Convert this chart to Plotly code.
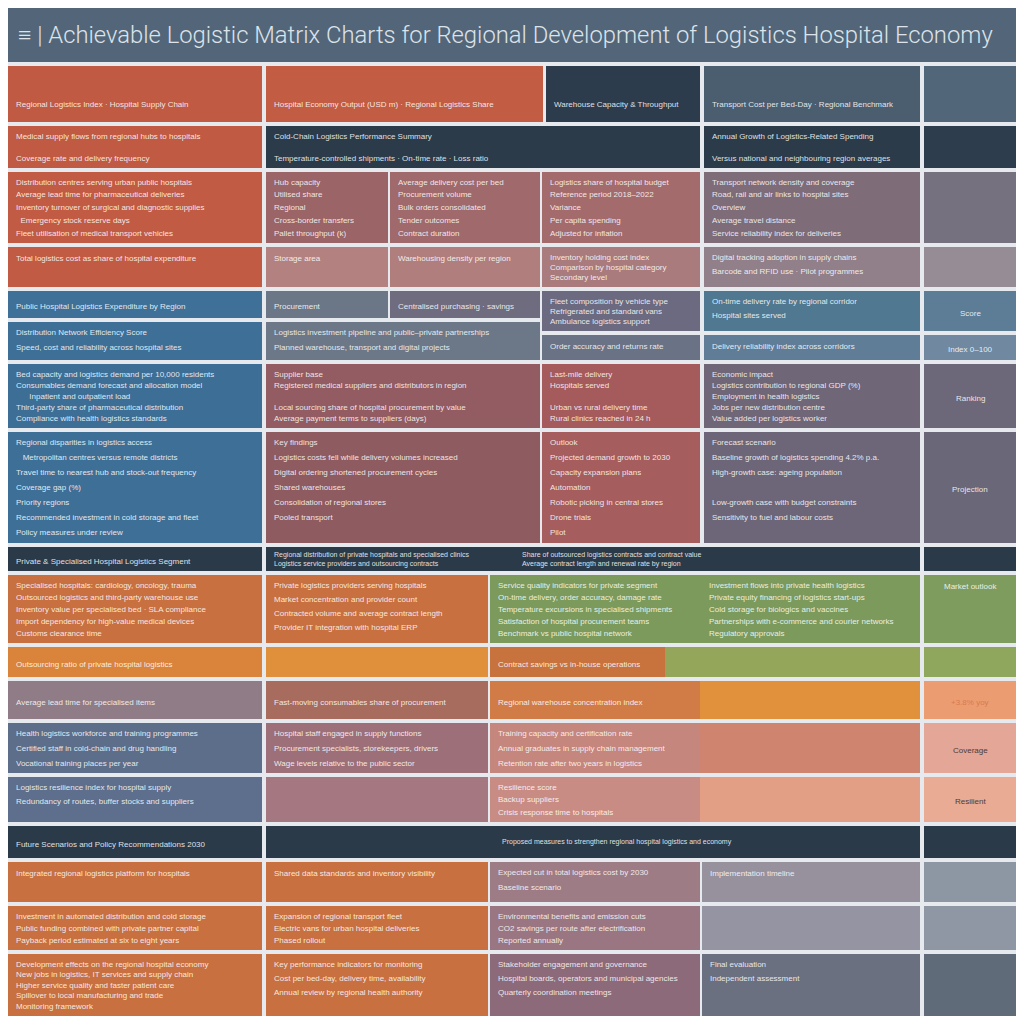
import plotly.graph_objects as go

# ---------------- DATA (cell texts) ----------------
title_text = "≡ | Achievable Logistic Matrix Charts for Regional Development of Logistics Hospital Economy"

row01_text = [["Regional Logistics Index · Hospital Supply Chain"],
              ["Hospital Economy Output (USD m) · Regional Logistics Share"],
              ["Warehouse Capacity & Throughput"],
              ["Transport Cost per Bed-Day · Regional Benchmark"],
              []]
row02_text = [["Medical supply flows from regional hubs to hospitals", "Coverage rate and delivery frequency"],
              ["Cold-Chain Logistics Performance Summary", "Temperature-controlled shipments · On-time rate · Loss ratio"],
              ["Annual Growth of Logistics-Related Spending", "Versus national and neighbouring region averages"],
              []]
row03_text = [["Distribution centres serving urban public hospitals", "Average lead time for pharmaceutical deliveries",
               "Inventory turnover of surgical and diagnostic supplies", "  Emergency stock reserve days",
               "Fleet utilisation of medical transport vehicles"],
              ["Hub capacity", "Utilised share", "Regional", "Cross-border transfers", "Pallet throughput (k)"],
              ["Average delivery cost per bed", "Procurement volume", "Bulk orders consolidated", "Tender outcomes", "Contract duration"],
              ["Logistics share of hospital budget", "Reference period 2018–2022", "Variance", "Per capita spending", "Adjusted for inflation"],
              ["Transport network density and coverage", "Road, rail and air links to hospital sites", "Overview",
               "Average travel distance", "Service reliability index for deliveries"],
              []]
row04_text = [["Total logistics cost as share of hospital expenditure"],
              ["Storage area"],
              ["Warehousing density per region"],
              ["Inventory holding cost index", "Comparison by hospital category", "Secondary level"],
              ["Digital tracking adoption in supply chains", "Barcode and RFID use · Pilot programmes"],
              []]
row05_text = [["Public Hospital Logistics Expenditure by Region"],
              ["Procurement"],
              ["Centralised purchasing · savings"],
              ["Fleet composition by vehicle type", "Refrigerated and standard vans", "Ambulance logistics support"],
              ["On-time delivery rate by regional corridor", "Hospital sites served"],
              ["Score"]]
row06_text = [["Distribution Network Efficiency Score", "Speed, cost and reliability across hospital sites"],
              ["Logistics investment pipeline and public–private partnerships", "Planned warehouse, transport and digital projects"],
              ["Order accuracy and returns rate"],
              ["Delivery reliability index across corridors"],
              ["Index 0–100"]]
row07_text = [["Bed capacity and logistics demand per 10,000 residents", "Consumables demand forecast and allocation model",
               "      Inpatient and outpatient load", "Third-party share of pharmaceutical distribution",
               "Compliance with health logistics standards"],
              ["Supplier base", "Registered medical suppliers and distributors in region", "",
               "Local sourcing share of hospital procurement by value", "Average payment terms to suppliers (days)"],
              ["Last-mile delivery", "Hospitals served", "", "Urban vs rural delivery time", "Rural clinics reached in 24 h"],
              ["Economic impact", "Logistics contribution to regional GDP (%)", "Employment in health logistics",
               "Jobs per new distribution centre", "Value added per logistics worker"],
              ["Ranking"]]
row08_text = [["Regional disparities in logistics access", "   Metropolitan centres versus remote districts",
               "Travel time to nearest hub and stock-out frequency", "Coverage gap (%)", "Priority regions",
               "Recommended investment in cold storage and fleet", "Policy measures under review"],
              ["Key findings", "Logistics costs fell while delivery volumes increased",
               "Digital ordering shortened procurement cycles", "Shared warehouses",
               "Consolidation of regional stores", "Pooled transport"],
              ["Outlook", "Projected demand growth to 2030", "Capacity expansion plans", "Automation",
               "Robotic picking in central stores", "Drone trials", "Pilot"],
              ["Forecast scenario", "Baseline growth of logistics spending 4.2% p.a.", "High-growth case: ageing population",
               "", "Low-growth case with budget constraints", "Sensitivity to fuel and labour costs"],
              ["Projection"]]
row09_text = [["Private & Specialised Hospital Logistics Segment"], [], []]
row10_text = [["Specialised hospitals: cardiology, oncology, trauma", "Outsourced logistics and third-party warehouse use",
               "Inventory value per specialised bed · SLA compliance", "Import dependency for high-value medical devices",
               "Customs clearance time"],
              ["Private logistics providers serving hospitals", "Market concentration and provider count",
               "Contracted volume and average contract length", "Provider IT integration with hospital ERP"],
              ["Service quality indicators for private segment", "On-time delivery, order accuracy, damage rate",
               "Temperature excursions in specialised shipments", "Satisfaction of hospital procurement teams",
               "Benchmark vs public hospital network"],
              ["Investment flows into private health logistics", "Private equity financing of logistics start-ups",
               "Cold storage for biologics and vaccines", "Partnerships with e-commerce and courier networks",
               "Regulatory approvals"],
              ["Market outlook"]]
row11_text = [["Outsourcing ratio of private hospital logistics"], [], ["Contract savings vs in-house operations"], [], []]
row12_text = [["Average lead time for specialised items"], ["Fast-moving consumables share of procurement"],
              ["Regional warehouse concentration index"], [], ["+3.8% yoy"]]
row13_text = [["Health logistics workforce and training programmes", "Certified staff in cold-chain and drug handling",
               "Vocational training places per year"],
              ["Hospital staff engaged in supply functions", "Procurement specialists, storekeepers, drivers",
               "Wage levels relative to the public sector"],
              ["Training capacity and certification rate", "Annual graduates in supply chain management",
               "Retention rate after two years in logistics"],
              [], ["Coverage"]]
row14_text = [["Logistics resilience index for hospital supply", "Redundancy of routes, buffer stocks and suppliers"],
              [], ["Resilience score", "Backup suppliers", "Crisis response time to hospitals"], [], ["Resilient"]]
row15_text = [["Future Scenarios and Policy Recommendations 2030"], [], []]
row16_text = [["Integrated regional logistics platform for hospitals"], ["Shared data standards and inventory visibility"],
              ["Expected cut in total logistics cost by 2030", "Baseline scenario"], ["Implementation timeline"], []]
row17_text = [["Investment in automated distribution and cold storage", "Public funding combined with private partner capital",
               "Payback period estimated at six to eight years"],
              ["Expansion of regional transport fleet", "Electric vans for urban hospital deliveries", "Phased rollout"],
              ["Environmental benefits and emission cuts", "CO2 savings per route after electrification", "Reported annually"],
              [], []]
row18_text = [["Development effects on the regional hospital economy", "New jobs in logistics, IT services and supply chain",
               "Higher service quality and faster patient care", "Spillover to local manufacturing and trade",
               "Monitoring framework"],
              ["Key performance indicators for monitoring", "Cost per bed-day, delivery time, availability",
               "Annual review by regional health authority"],
              ["Stakeholder engagement and governance", "Hospital boards, operators and municipal agencies",
               "Quarterly coordination meetings"],
              ["Final evaluation", "Independent assessment"], []]

banner_texts = ["Regional distribution of private hospitals and specialised clinics<br>Logistics service providers and outsourcing contracts",
                "Share of outsourced logistics contracts and contract value<br>Average contract length and renewal rate by region",
                "Proposed measures to strengthen regional hospital logistics and economy"]

row_text = [row01_text, row02_text, row03_text, row04_text, row05_text, row06_text, row07_text, row08_text,
            row09_text, row10_text, row11_text, row12_text, row13_text, row14_text, row15_text, row16_text,
            row17_text, row18_text]

# ---------------- LAYOUT (geometry & styles) ----------------
row_y = [(66, 122), (126, 168), (172, 243), (247, 287), (291, 318), (322, 360), (364, 428), (432, 543),
         (547, 571), (575, 643), (647, 677), (681, 719), (723, 773), (777, 822), (826, 858), (862, 902),
         (906, 950), (954, 1016)]
sixA = [(8, 262), (266, 388), (390, 540), (542, 700), (704, 920), (924, 1016)]
fiveA = [(8, 262), (266, 540), (542, 700), (704, 920), (924, 1016)]
fiveB = [(8, 262), (266, 488), (490, 700), (702, 920), (924, 1016)]
dark3 = [(8, 262), (266, 920), (924, 1016)]
row_x = [[(8, 262), (266, 543), (546, 700), (704, 920), (924, 1016)],
         [(8, 262), (266, 700), (704, 920), (924, 1016)],
         sixA, sixA, sixA, fiveA, fiveA, fiveA, dark3,
         [(8, 262), (266, 488), (490, 701), (701, 920), (924, 1016)],
         [(8, 262), (266, 488), (490, 665), (665, 920), (924, 1016)],
         [(8, 262), (266, 488), (490, 700), (700, 920), (924, 1016)],
         [(8, 262), (266, 488), (490, 700), (700, 920), (924, 1016)],
         [(8, 262), (266, 488), (490, 700), (700, 920), (924, 1016)],
         dark3, fiveB, fiveB, fiveB]
y_override = {(4, 3): (291, 331), (4, 4): (291, 331), (4, 5): (291, 331),
              (5, 2): (335, 360), (5, 3): (335, 360), (5, 4): (335, 360)}
row_colors = [
    ["#c05a42", "#c25c43", "#2d3c4c", "#4a5e70", "#52667a"],
    ["#c05a42", "#2c3b4a", "#2c3b4a", "#2e3d4d"],
    ["#c25b43", "#9b6466", "#a0696b", "#a46b6d", "#7e6c79", "#75717f"],
    ["#c25b43", "#b38280", "#b07f7d", "#aa7b7c", "#918089", "#958c96"],
    ["#3f7098", "#6b7787", "#6f6c7f", "#6b6a80", "#507891", "#5d7c96"],
    ["#3e6f97", "#6c7888", "#6a7285", "#5f7d96", "#7089a0"],
    ["#3d6e96", "#925c62", "#a55b5b", "#6f6678", "#6c6879"],
    ["#3e6f97", "#8e5b61", "#a65d5d", "#6c6678", "#6a6779"],
    ["#2b3a49", "#2b3a49", "#2b3a49"],
    ["#c8703f", "#c8703f", "#7b9a5c", "#7b9a5c", "#7e9c5e"],
    ["#d9843a", "#e08f3a", "#c8723d", "#93a65a", "#8fa75c"],
    ["#8f7c86", "#a86c5f", "#d17b47", "#e1913b", "#eb9c70"],
    ["#5d6e8b", "#9d7079", "#c5867d", "#cf8470", "#e4a797"],
    ["#5d6f8c", "#a47781", "#c98c84", "#e39f85", "#e9ab93"],
    ["#2b3a49", "#2b3a49", "#2b3a49"],
    ["#c8703f", "#c8703f", "#9e7c86", "#97919e", "#8d96a3"],
    ["#c8703f", "#c8703f", "#9a7682", "#9494a2", "#8f97a4"],
    ["#c8703f", "#c8703f", "#8d6a79", "#6b7080", "#5f6b79"],
]
row_valign = ["middle", "top", "top", "top", "middle", "top", "top", "top", "middle", "top",
              "middle", "middle", "top", "top", "middle", "top", "top", "top"]
row_gap_cap = [14, 22, 14, 14, 14, 15, 14, 15, 14, 14, 14, 14, 15, 14, 14, 15, 12, 14]
row_mid_shift = {0: 8}
text_color_override = {(11, 4): "rgba(214,120,80,0.95)", (12, 4): "#4b3b3b", (13, 4): "#4b3b3b"}
valign_override = {(9, 4): "top"}
banner_pos = [(272, 559), (520, 559), (500, 842)]

BODY_FONT = "Liberation Sans"
TEXT_COL = "rgba(255,255,255,0.86)"

# page body has an 8px margin: the figure is 1008 px and its axes span page pixels 8..1016
PAGE_MARGIN = 8
FIG_SIZE = 1024 - 2 * PAGE_MARGIN

fig = go.Figure()
shapes = []
annotations = []

# title bar
shapes.append(dict(type="rect", xref="x", yref="y", x0=8, x1=1016, y0=8, y1=62,
                   fillcolor="#536679", line=dict(width=0), layer="below"))
annotations.append(dict(x=16, y=35, xref="x", yref="y", text=title_text, showarrow=False,
                        xanchor="left", yanchor="middle",
                        font=dict(family="Roboto", size=23.8, weight=300, color="#dce3ea")))

for r, (segs, cols, texts) in enumerate(zip(row_x, row_colors, row_text)):
    for s, ((x0, x1), col, lines) in enumerate(zip(segs, cols, texts)):
        y0, y1 = y_override.get((r, s), row_y[r])
        shapes.append(dict(type="rect", xref="x", yref="y", x0=x0, x1=x1, y0=y0, y1=y1,
                           fillcolor=col, line=dict(width=0), layer="below"))
        n = len(lines)
        if n == 0:
            continue
        last_col = (x1 == 1016)
        color = text_color_override.get((r, s), TEXT_COL)
        if n == 1:
            va = valign_override.get((r, s), "middle" if last_col else row_valign[r])
            ys = [(y0 + y1) / 2 + 2 + row_mid_shift.get(r, 0)] if va == "middle" else [y0 + 11]
        else:
            gap = min(row_gap_cap[r], (y1 - y0 - 20) / (n - 1))
            ys = [y0 + 10 + i * gap for i in range(n)]
        for line, ly in zip(lines, ys):
            if not line:
                continue
            if last_col:
                ax, xa = (x0 + x1) / 2, "center"
            else:
                ax, xa = x0 + 6, "left"
            annotations.append(dict(x=ax, y=ly, xref="x", yref="y", text=line, showarrow=False,
                                    xanchor=xa, yanchor="middle",
                                    font=dict(family=BODY_FONT, size=8, color=color)))

for txt, (bx, by) in zip(banner_texts, banner_pos):
    annotations.append(dict(x=bx, y=by, xref="x", yref="y", text=txt, showarrow=False,
                            xanchor="left", yanchor="middle", align="left",
                            font=dict(family=BODY_FONT, size=7, color=TEXT_COL)))

fig.update_layout(
    width=FIG_SIZE, height=FIG_SIZE,
    margin=dict(l=0, r=0, t=0, b=0, pad=0),
    paper_bgcolor="#e6e9ee", plot_bgcolor="#e6e9ee",
    xaxis=dict(range=[PAGE_MARGIN, 1024 - PAGE_MARGIN], visible=False, fixedrange=True),
    yaxis=dict(range=[1024 - PAGE_MARGIN, PAGE_MARGIN], visible=False, fixedrange=True),
    shapes=shapes, annotations=annotations, showlegend=False,
)

fig.write_html("out.html")
